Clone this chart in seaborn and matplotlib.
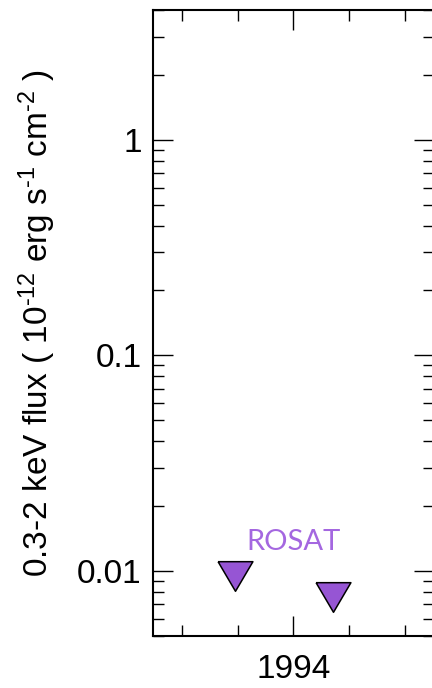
import numpy as np
import pandas as pd
import matplotlib
matplotlib.use("Agg")
import matplotlib.pyplot as plt
from matplotlib.ticker import FixedLocator, LogLocator, NullFormatter, FixedFormatter
import seaborn as sns

# data
years = [1992.95, 1994.71]
flux = [0.00946, 0.00755]
mission = ["ROSAT", "ROSAT"]
label_text = "ROSAT"
label_pos = (1994.0, 0.01248)
x_major = [1994]
x_major_labels = ["1994"]
y_major = [0.01, 0.1, 1]
y_major_labels = ["0.01", "0.1", "1"]

sns.set_theme(style="ticks")
plt.rcParams['font.family'] = ['Liberation Sans', 'DejaVu Sans']
plt.rcParams['mathtext.fontset'] = 'custom'
plt.rcParams['mathtext.rm'] = 'Liberation Sans'
plt.rcParams['mathtext.it'] = 'Liberation Sans'
plt.rcParams['mathtext.bf'] = 'Liberation Sans'

fig = plt.figure(figsize=(4.32, 6.88), dpi=100)
ax = fig.add_axes([152.7/432, (688-635.7)/688, (434-152.7)/432, (635.7-10)/688])

df = pd.DataFrame({"year": years, "flux": flux, "mission": mission})
tri = [(-1, 0.85), (1, 0.85), (0, -0.85), (-1, 0.85)]
sns.scatterplot(data=df, x="year", y="flux", ax=ax, marker=tri, s=630,
                color="#9655d4", edgecolor="black", linewidth=1.1, legend=False,
                zorder=3, clip_on=False)

ax.set_yscale("log")
ax.set_xlim(1991.48, 1996.52)
ax.set_ylim(0.005, 4.0)

ax.xaxis.set_major_locator(FixedLocator(x_major))
ax.xaxis.set_major_formatter(FixedFormatter(x_major_labels))
ax.xaxis.set_minor_locator(FixedLocator(np.arange(1991, 1998, 1.0)))
ax.yaxis.set_major_locator(FixedLocator(y_major))
ax.yaxis.set_major_formatter(FixedFormatter(y_major_labels))
ax.yaxis.set_minor_locator(LogLocator(base=10, subs=np.arange(2, 10)))
ax.yaxis.set_minor_formatter(NullFormatter())

ax.tick_params(which="both", direction="in", top=True, right=True,
               colors="black", labelsize=24)
ax.tick_params(which="major", length=14.4, width=1.0, pad=8)
ax.tick_params(which="minor", length=7.7, width=1.0)
ax.tick_params(axis="x", which="major", pad=13)
for s in ax.spines.values():
    s.set_linewidth(1.5)
    s.set_color("black")

ax.set_xlabel("")
ax.set_ylabel("0.3-2 keV flux ( 10$^{\\text{-12}}$ erg s$^{\\text{-1}}$ cm$^{\\text{-2}}$ )",
              fontsize=24, labelpad=14, color="black")

ax.text(label_pos[0], label_pos[1], label_text, family="Lato", fontsize=21,
        color="#a467e0", ha="center", va="baseline")

fig.savefig("out.png", dpi=100)
